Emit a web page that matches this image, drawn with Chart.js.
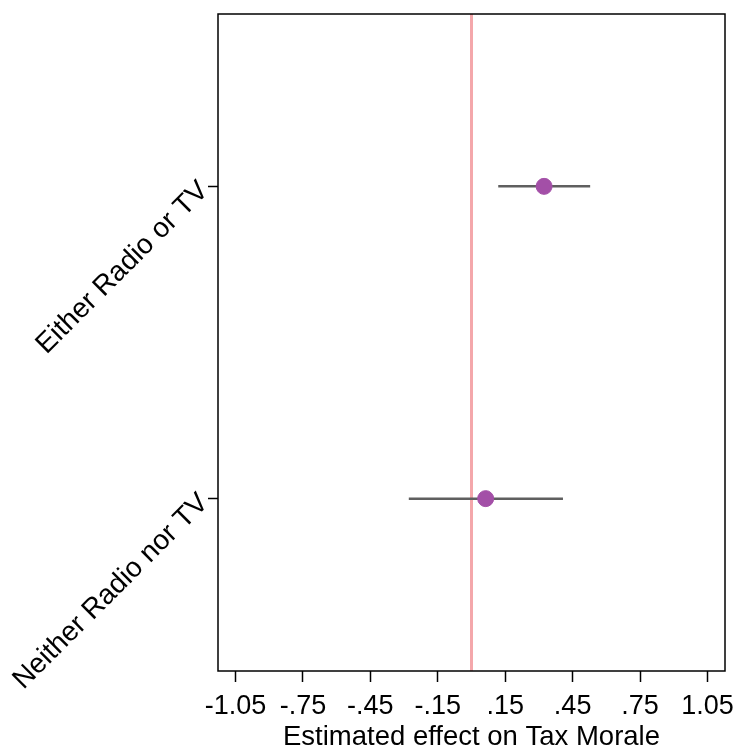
<!DOCTYPE html>
<html>
<head>
<meta charset="utf-8">
<script src="https://cdn.jsdelivr.net/npm/chart.js@4/dist/chart.umd.min.js"></script>
<style>
html,body{margin:0;padding:0;background:#fff;}
#wrap{width:738px;height:747px;position:relative;}
</style>
</head>
<body>
<div id="wrap"><canvas id="c" width="738" height="747"></canvas></div>
<script>
// Data
const categories = ["Either Radio or TV", "Neither Radio nor TV"];
const estimates = [0.323, 0.063];
const ciLow = [0.119, -0.279];
const ciHigh = [0.528, 0.407];
const xTickValues = [-1.05, -0.75, -0.45, -0.15, 0.15, 0.45, 0.75, 1.05];
const xTickLabels = ["-1.05", "-.75", "-.45", "-.15", ".15", ".45", ".75", "1.05"];
const referenceValue = 0;

const Y_MIN = 0.448, Y_MAX = 2.552;
const X_MIN = -1.128, X_MAX = 1.128;
const FONT = "'Liberation Sans', Arial, Helvetica, sans-serif";

const pointData = categories.map((c, i) => ({x: estimates[i], y: i + 1}));
const ciDatasets = categories.map((c, i) => ({
  type: 'line',
  data: [{x: ciLow[i], y: i + 1}, {x: ciHigh[i], y: i + 1}],
  borderColor: '#5f5f5f',
  borderWidth: 2.5,
  pointRadius: 0,
  fill: false
}));

const frame = {
  id: 'frame',
  afterDatasetsDraw(chart) {
    const a = chart.chartArea, ctx = chart.ctx;
    ctx.save();
    ctx.strokeStyle = '#000';
    ctx.lineWidth = 1.5;
    ctx.strokeRect(a.left, a.top, a.right - a.left, a.bottom - a.top);
    ctx.restore();
  }
};

new Chart(document.getElementById('c'), {
  type: 'scatter',
  data: {
    datasets: [
      {
        type: 'scatter',
        data: pointData,
        backgroundColor: '#a34fa7',
        borderColor: '#a34fa7',
        pointRadius: 8,
        pointHoverRadius: 8
      },
      ...ciDatasets,
      {
        type: 'line',
        data: [{x: referenceValue, y: Y_MIN}, {x: referenceValue, y: Y_MAX}],
        borderColor: '#f4a7ab',
        borderWidth: 3,
        pointRadius: 0,
        fill: false
      }
    ]
  },
  plugins: [frame],
  options: {
    responsive: false,
    animation: false,
    layout: {padding: {top: 14, right: 13, left: 0, bottom: 0}},
    plugins: {legend: {display: false}, tooltip: {enabled: false}},
    scales: {
      x: {
        type: 'linear',
        min: X_MIN, max: X_MAX,
        afterBuildTicks(s) { s.ticks = xTickValues.map(v => ({value: v})); },
        afterFit(s) { s.height = 76; s.paddingLeft = 0; s.paddingRight = 0; },
        grid: {drawOnChartArea: false, drawTicks: true, tickLength: 11, tickColor: '#000', tickWidth: 1.5},
        border: {display: false},
        ticks: {
          color: '#000',
          font: {family: FONT, size: 27},
          padding: 8,
          maxRotation: 0, minRotation: 0,
          callback(v) { const i = xTickValues.findIndex(t => Math.abs(t - v) < 1e-6); return i >= 0 ? xTickLabels[i] : ''; }
        },
        title: {display: true, text: 'Estimated effect on Tax Morale', color: '#000', font: {family: FONT, size: 27.5}, padding: {top: 0, bottom: -7}}
      },
      y: {
        type: 'linear',
        reverse: true,
        min: Y_MIN, max: Y_MAX,
        afterBuildTicks(s) { s.ticks = categories.map((c, i) => ({value: i + 1})); },
        afterFit(s) { s.width = 218; s.paddingTop = 0; s.paddingBottom = 0; },
        grid: {drawOnChartArea: false, drawTicks: true, tickLength: 10, tickColor: '#000', tickWidth: 1.5},
        border: {display: false},
        ticks: {
          color: '#000',
          font: {family: FONT, size: 28},
          padding: 4,
          minRotation: 45, maxRotation: 45,
          callback(v) { const i = Math.round(v) - 1; return categories[i] || ''; }
        }
      }
    }
  }
});
</script>
</body>
</html>
